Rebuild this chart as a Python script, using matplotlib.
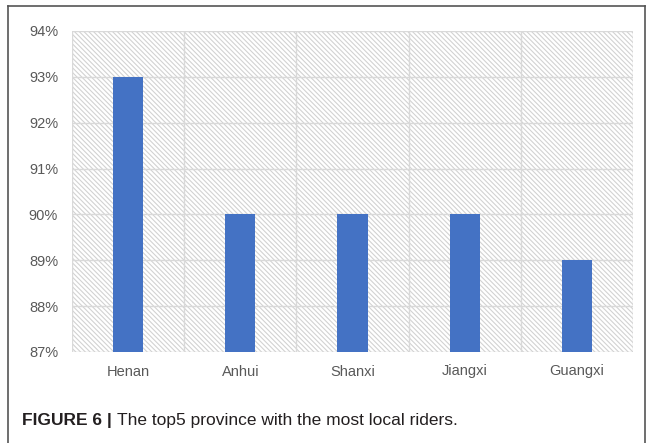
import matplotlib.pyplot as plt
from matplotlib.patches import Rectangle
from matplotlib.lines import Line2D
from matplotlib.ticker import FuncFormatter, MultipleLocator

provinces = ["Henan", "Anhui", "Shanxi", "Jiangxi", "Guangxi"]
local_share = [93, 90, 90, 90, 89]
y_min, y_max = 87, 94

plt.rcParams['font.family'] = ['Liberation Sans', 'DejaVu Sans']
plt.rcParams['hatch.color'] = '#d2d2d2'
plt.rcParams['hatch.linewidth'] = 0.8

fig = plt.figure(figsize=(6.52, 4.43), dpi=100)
W, H = 652, 443
ax = fig.add_axes([72 / W, 1 - 352 / H, (633 - 72) / W, (352 - 31) / H])

n = len(provinces)
ax.set_xlim(0, n)
ax.set_ylim(y_min, y_max)

# hatched plot-area background
ax.add_patch(Rectangle((0, y_min), n, y_max - y_min, facecolor='white',
                       edgecolor='#d2d2d2', hatch='\\' * 7, linewidth=0, zorder=0))

xs = [i + 0.5 for i in range(n)]
ax.bar(xs, [v - y_min for v in local_share], bottom=y_min, width=0.27,
       color='#4472c4', zorder=3)

# gridlines at category boundaries and at each percent
for i in range(n + 1):
    ax.axvline(i, color='#d9d9d9', lw=1.0, zorder=1)
for v in range(y_min, y_max + 1):
    ax.axhline(v, color='#d9d9d9', lw=1.0, zorder=1)

for s in ax.spines.values():
    s.set_visible(False)
ax.set_xticks(xs)
ax.set_xticklabels(provinces)
ax.yaxis.set_major_locator(MultipleLocator(1))
ax.yaxis.set_major_formatter(FuncFormatter(lambda v, p: f"{v:.0f}%"))
ax.tick_params(length=0, labelsize=10.5, labelcolor='#595959')
ax.tick_params(axis='y', pad=10)
ax.tick_params(axis='x', pad=9)

# outer frame
frame_kw = dict(color='#555555', lw=1.2, transform=fig.transFigure)
fig.add_artist(Line2D([8 / W, 8 / W], [0, 1 - 6 / H], **frame_kw))
fig.add_artist(Line2D([8 / W, 645 / W], [1 - 6 / H, 1 - 6 / H], **frame_kw))
fig.add_artist(Line2D([645 / W, 645 / W], [0, 1 - 6 / H], **frame_kw))

# caption
cap_y = 1 - 421 / H
t1 = fig.text(22 / W, cap_y, "FIGURE 6 | ", fontsize=12.5, fontweight='bold',
              color='#231f20', va='center')
fig.canvas.draw()
bb = t1.get_window_extent()
fig.text(bb.x1 / W, cap_y, "The top5 province with the most local riders.",
         fontsize=12.5, color='#231f20', va='center')

fig.savefig('out.png', dpi=100)
